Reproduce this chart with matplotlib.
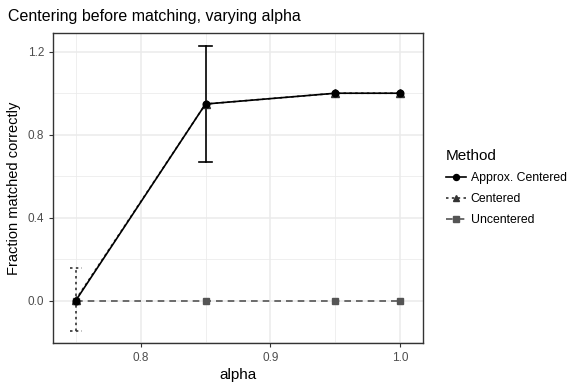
import matplotlib
matplotlib.use('Agg')
import matplotlib.pyplot as plt
from matplotlib.ticker import MultipleLocator

plt.rcParams['font.family'] = ['Liberation Sans', 'DejaVu Sans']

alpha = [0.75, 0.85, 0.95, 1.0]
methods = ['Approx. Centered', 'Centered', 'Uncentered']
approx = [0.0, 0.948, 1.0, 1.0]
approx_err = [0.0, 0.278, 0.0, 0.0]
centered = [0.005, 0.948, 1.0, 1.0]
centered_err = [0.152, 0.0, 0.0, 0.0]
uncentered = [0.0, 0.0, 0.0, 0.0]
uncentered_err = [0.0, 0.0, 0.0, 0.0]

styles = {
    'Approx. Centered': dict(color='black', ls='-', marker='o', ms=4.8, z=6),
    'Centered': dict(color='#333333', ls=(0, (1.5, 2)), marker='^', ms=5.5, z=5),
    'Uncentered': dict(color='#555555', ls=(0, (4, 3)), marker='s', ms=4.5, z=4),
}
series = {'Approx. Centered': (approx, approx_err),
          'Centered': (centered, centered_err),
          'Uncentered': (uncentered, uncentered_err)}

fig = plt.figure(figsize=(5.81, 3.88), dpi=100)
ax = fig.add_axes([0.0907, 0.1152, 0.6373, 0.8005])

cap = 0.0047
handles = []
for m in methods:
    vals, err = series[m]
    st = styles[m]
    for x, v, e in zip(alpha, vals, err):
        if e > 0:
            # error bar as three lines so the caps take the line type too
            ax.plot([x, x], [v - e, v + e], color=st['color'], lw=1.2,
                    linestyle=st['ls'], zorder=3)
            ax.plot([x - cap, x + cap], [v + e, v + e], color=st['color'],
                    lw=1.2, linestyle=st['ls'], zorder=3)
            ax.plot([x - cap, x + cap], [v - e, v - e], color=st['color'],
                    lw=1.2, linestyle=st['ls'], zorder=3)
    h, = ax.plot(alpha, vals, color=st['color'], linestyle=st['ls'], lw=1.2,
                 marker=st['marker'], markersize=st['ms'], zorder=st['z'], label=m)
    handles.append(h)

ax.set_xlim(0.7323, 1.0175)
ax.set_ylim(-0.205, 1.2916)
ax.xaxis.set_minor_locator(MultipleLocator(0.05))
ax.yaxis.set_minor_locator(MultipleLocator(0.2))
ax.set_xticks([0.8, 0.9, 1.0])
ax.set_xticklabels(['0.8', '0.9', '1.0'])
ax.set_yticks([0.0, 0.4, 0.8, 1.2])
ax.set_yticklabels(['0.0', '0.4', '0.8', '1.2'])

ax.grid(which='major', color='#ebebeb', lw=1.1, zorder=0)
ax.grid(which='minor', color='#ebebeb', lw=0.55, zorder=0)
ax.set_axisbelow(True)
ax.tick_params(which='major', direction='out', length=3, width=0.8, color='#333333',
               labelcolor='#4d4d4d', labelsize=8.5, pad=3)
ax.tick_params(which='minor', length=0)
for s in ax.spines.values():
    s.set_color('#333333')
    s.set_linewidth(1.0)

ax.set_xlabel('alpha', fontsize=11, labelpad=3)
ax.set_ylabel('Fraction matched correctly', fontsize=10.5, labelpad=5)
fig.text(0.0138, 0.958, 'Centering before matching, varying alpha', fontsize=11.5,
         va='center', ha='left')

leg = fig.legend(handles=handles, labels=methods, title='Method', loc='upper left',
                 bbox_to_anchor=(0.749, 0.645), frameon=False, fontsize=8.8,
                 title_fontsize=11, handlelength=1.6, labelspacing=0.75,
                 handletextpad=0.4, markerscale=0.9)
leg._legend_box.align = 'left'

fig.savefig('out.png', dpi=100)
